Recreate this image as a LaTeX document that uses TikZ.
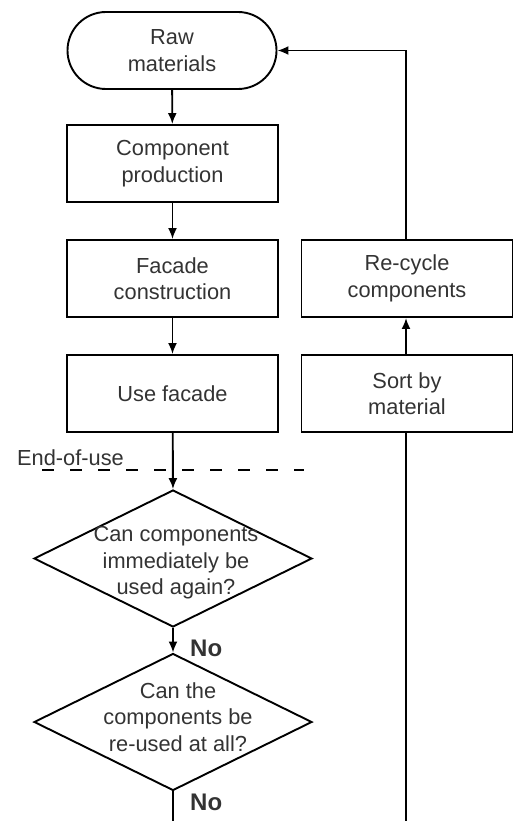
\documentclass[tikz,border=0pt]{standalone}
\usepackage{fontspec}
\setmainfont{Liberation Sans}
\usetikzlibrary{arrows.meta,shapes.geometric}
\definecolor{txtc}{HTML}{333333}
\tikzset{
  box/.style={draw=black,line width=1.9pt,minimum width=211pt,minimum height=77pt,inner sep=0pt,align=center,text=txtc,font=\fontsize{21.8}{26.5}\selectfont},
  term/.style={box,minimum width=209pt,rounded corners=38.5pt},
  diam/.style={draw=black,line width=1.9pt,diamond,minimum width=278pt,minimum height=137pt,inner sep=0pt},
  dtxt/.style={align=center,text=txtc,font=\fontsize{21.8}{26.5}\selectfont,inner sep=0pt},
  arr/.style={line width=1.9pt,-{Latex[length=11pt,width=9pt]}},
  ln/.style={line width=1.9pt},
  lbl/.style={font=\bfseries\fontsize{24}{28}\selectfont,text=txtc,inner sep=0pt}
}
\begin{document}
\begin{tikzpicture}[x=1pt,y=-1pt]
\useasboundingbox (0,0) rectangle (518,821);
\node[term] (raw) at (172,50.5) {Raw\\materials};
\node[box] (comp) at (172.5,163.5) {Component\\production};
\node[box] (fac) at (172.5,278.5) {Facade\\construction};
\node[box] (use) at (172.5,393.5) {Use facade};
\node[box] (rec) at (407,278.5) {Re-cycle\\components};
\node[box] (sort) at (407,393.5) {Sort by\\material};
\node[diam] (d1) at (173,558.5) {};
\node[dtxt] (t1) at (176,563) {Can components\\immediately be\\used again?};
\node[diam] (d2) at (173,722) {};
\node[dtxt] (t2) at (178,717) {Can the\\components be\\re-used at all?};
\node[dtxt,anchor=base west] (eou) at (17,465) {End-of-use};
\coordinate (dl) at (42,470);
\coordinate (dr) at (304,470);
\coordinate (bl) at (173,821);
\coordinate (br) at (406,821);
\draw[line width=1.2pt,dash pattern=on 12pt off 16pt] (dl) -- (dr);
\draw[arr] (raw) -- (comp);
\draw[arr] (comp) -- (fac);
\draw[arr] (fac) -- (use);
\draw[arr] (use) -- (d1.north);
\draw[arr] (d1.south) -- (d2.north);
\draw[ln] (d2.south) -- (bl);
\draw[ln] (br) -- (sort.south -| br);
\draw[arr] (sort.north -| br) -- (rec.south -| br);
\draw[arr] (rec.north -| br) |- (raw.east);
\node[lbl,anchor=west] (no1) at (190,648) {No};
\node[lbl,anchor=west] (no2) at (190,802) {No};
\end{tikzpicture}
\end{document}
